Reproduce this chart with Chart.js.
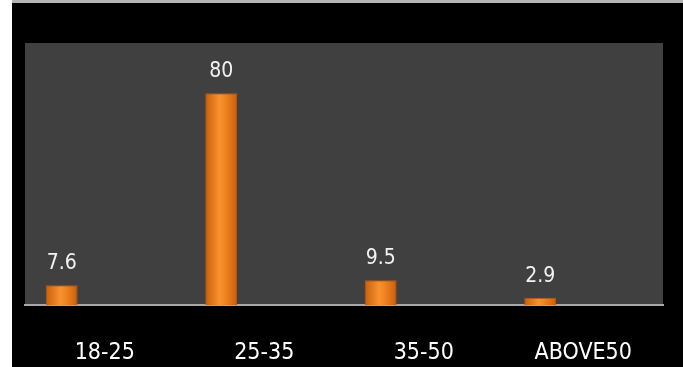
<!DOCTYPE html>
<html>
<head>
<meta charset="utf-8">
<script src="https://cdn.jsdelivr.net/npm/chart.js@4/dist/chart.umd.min.js"></script>
<style>
  body { margin: 0; background: #fff; }
  #wrap { position: absolute; left: 12px; top: 0; width: 671px; height: 364px;
          background: #000; border-top: 3px solid #b4b4b4; }
</style>
</head>
<body>
<div id="wrap"><canvas id="grafico" width="671" height="364"></canvas></div>
<script>
const categorias = ['18-25', '25-35', '35-50', 'ABOVE50'];
const valores = [7.6, 80, 9.5, 2.9];
const vazio = categorias.map(() => null); // segunda série vazia: empurra as barras para a esquerda

const fonte = 'DejaVu Sans Condensed';

// gradiente horizontal de cada barra (bordas escuras, meio claro)
function corBarra(context) {
  const bar = context.chart.getDatasetMeta(0).data[context.dataIndex];
  if (!bar || !isFinite(bar.x) || !bar.width) return '#ef801c';
  const x0 = bar.x - bar.width / 2;
  const g = context.chart.ctx.createLinearGradient(x0, 0, x0 + bar.width, 0);
  g.addColorStop(0, '#c85f0c');
  g.addColorStop(0.45, '#f79230');
  g.addColorStop(0.6, '#f38624');
  g.addColorStop(1, '#c85f0c');
  return g;
}

// fundo cinza da área do gráfico
const fundoArea = {
  id: 'fundoArea',
  beforeDraw(chart) {
    const a = chart.chartArea;
    const c = chart.ctx;
    c.save();
    c.fillStyle = '#404040';
    c.fillRect(a.left, a.top, a.right - a.left, a.bottom - a.top);
    c.restore();
  }
};

// rótulos de valor acima das barras
const rotulos = {
  id: 'rotulos',
  afterDatasetsDraw(chart) {
    const c = chart.ctx;
    const meta = chart.getDatasetMeta(0);
    c.save();
    c.fillStyle = '#f2f2f2';
    c.font = '21px "' + fonte + '"';
    c.textAlign = 'center';
    c.textBaseline = 'bottom';
    meta.data.forEach((bar, i) => {
      c.fillText(String(valores[i]), bar.x, bar.y - 11);
    });
    c.restore();
  }
};

const chart = new Chart(document.getElementById('grafico'), {
  type: 'bar',
  data: {
    labels: categorias,
    datasets: [
      {
        data: valores,
        backgroundColor: corBarra,
        borderColor: '#b9580c',
        borderWidth: 1,
        categoryPercentage: 1.08,
        barPercentage: 0.37
      },
      {
        data: vazio,
        categoryPercentage: 1.08,
        barPercentage: 0.37
      }
    ]
  },
  options: {
    responsive: false,
    animation: false,
    layout: { padding: { left: 13, right: 20, top: 40, bottom: 0 } },
    plugins: { legend: { display: false }, tooltip: { enabled: false } },
    scales: {
      x: {
        grid: { display: true, drawOnChartArea: false, color: 'rgba(0,0,0,0)', tickLength: 34 },
        border: { display: true, color: '#a8a8a8', width: 2 },
        ticks: { color: '#ffffff', padding: 0, font: { family: fonte, size: 23 } }
      },
      y: { display: false, min: 0, max: 99 }
    }
  },
  plugins: [fundoArea, rotulos]
});
chart.update();
</script>
</body>
</html>
